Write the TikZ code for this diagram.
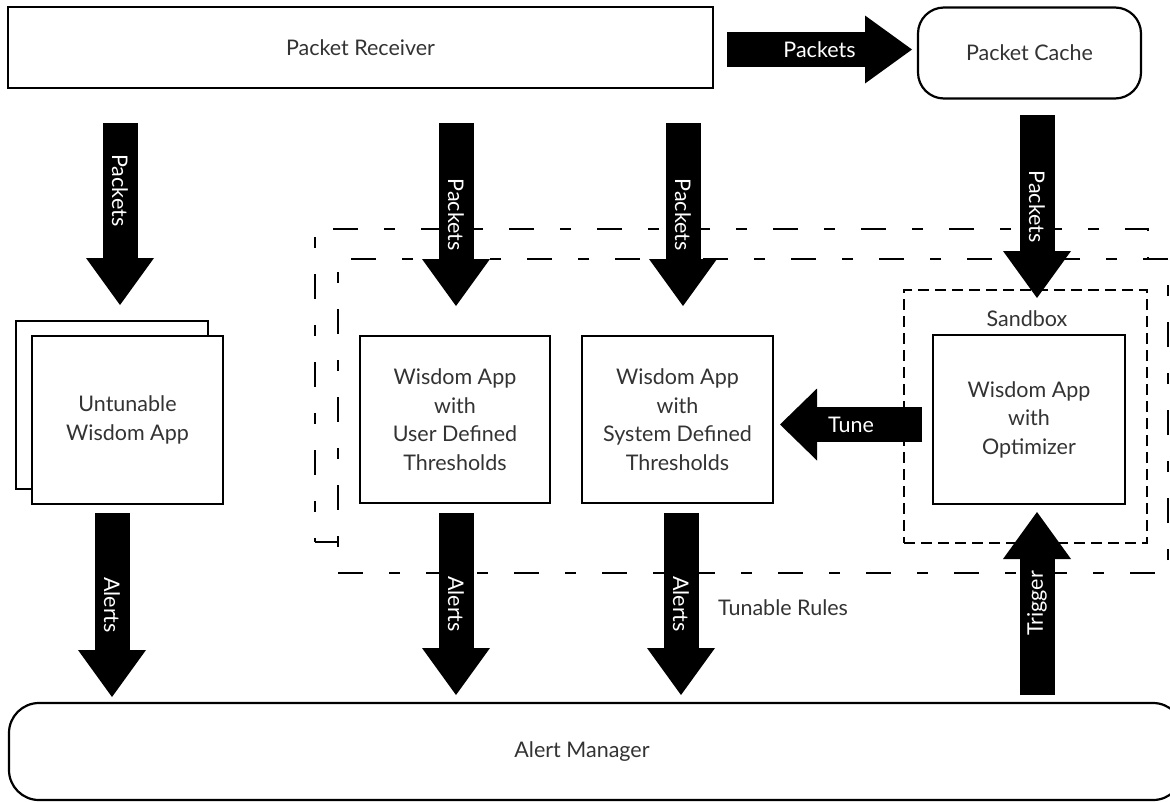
\documentclass[tikz,border=0pt]{standalone}
\usepackage{fontspec}
\setmainfont{Lato}
\usetikzlibrary{arrows.meta}
\definecolor{txt}{RGB}{51,51,51}
\begin{document}
\begin{tikzpicture}[x=1pt,y=-1pt,
  box/.style={draw=black, line width=2.2pt, fill=white, text=txt, align=center, inner sep=0pt,
    font=\fontsize{21.5}{28.5}\selectfont},
  plain/.style={text=txt, inner sep=0pt, font=\fontsize{21.5}{28.5}\selectfont},
  fat/.style={draw=black, line width=35pt, -{Triangle[length=47pt,width=68pt,line width=0pt]}},
  tunearrow/.style={draw=black, line width=35pt, -{Triangle[length=37pt,width=72pt,line width=0pt]}},
  lbl/.style={text=white, inner sep=0pt, font=\fontsize{21.5}{24}\selectfont},
  dashdot/.style={draw=black, line width=2.2pt, dash pattern=on 25pt off 26pt on 11pt off 26pt},
  dotbox/.style={draw=black, line width=2.2pt, dash pattern=on 11pt off 6pt}
]
\useasboundingbox (0,0) rectangle (1170,801);
\fill[white] (0,0) rectangle (1170,801);

% dashed regions
\node[dashdot, minimum width=833pt, minimum height=313pt, inner sep=0pt] (outer) at (731.5,385.5) {};
\node[dashdot, fill=white, minimum width=830pt, minimum height=314pt, inner sep=0pt] (inner) at (753,416) {};
\node[dotbox, minimum width=243pt, minimum height=253pt, inner sep=0pt] (sandbox) at (1025.5,416.5) {};
\node[plain] (sandboxlbl) at (1027,319) {Sandbox};
\node[plain] (tunable) at (783,608) {Tunable Rules};

% boxes
\node[box, minimum width=705pt, minimum height=81pt] (recv) at (360.5,47.5) {Packet Receiver};
\node[box, rounded corners=26pt, minimum width=223pt, minimum height=91pt] (cache) at (1029.5,53) {Packet Cache};
\node[box, minimum width=192pt, minimum height=168pt] (untb) at (112,405) {};
\node[box, minimum width=191pt, minimum height=168pt] (unt) at (127.5,420) {Untunable\\Wisdom App};
\node[box, minimum width=190pt, minimum height=167pt] (user) at (455,419.5) {Wisdom App\\with\\User Defined\\Thresholds};
\node[box, minimum width=191pt, minimum height=167pt] (sys) at (677.5,419.5) {Wisdom App\\with\\System Defined\\Thresholds};
\node[box, minimum width=192pt, minimum height=169pt] (opt) at (1029,419.5) {Wisdom App\\with\\Optimizer};
\node[box, rounded corners=30pt, minimum width=1174pt, minimum height=97pt] (am) at (596,751.5) {};
\node[plain] (amlbl) at (582,752) {Alert Manager};

% arrow end points
\coordinate (ph1) at (727,49.5);  \coordinate (ph2) at (912,49.5);
\coordinate (pa1) at (120,123);   \coordinate (pa2) at (120,305);
\coordinate (pb1) at (456,123);   \coordinate (pb2) at (456,306);
\coordinate (pc1) at (683,123);   \coordinate (pc2) at (683,306);
\coordinate (pd1) at (1037,115);  \coordinate (pd2) at (1037,298);
\coordinate (aa1) at (112,513);   \coordinate (aa2) at (112,697);
\coordinate (ab1) at (456,513);   \coordinate (ab2) at (456,695);
\coordinate (ac1) at (681,513);   \coordinate (ac2) at (681,695);
\coordinate (tr1) at (1037,695);  \coordinate (tr2) at (1037,512);
\coordinate (tu1) at (922,424.5); \coordinate (tu2) at (780,424.5);

% arrows
\draw[fat] (ph1) -- (ph2) node[lbl, pos=0.5] (phl) {Packets};
\draw[fat] (pa1) -- (pa2) node[lbl, pos=0.37, rotate=-90] (pal) {Packets};
\draw[fat] (pb1) -- (pb2) node[lbl, pos=0.5, rotate=-90] (pbl) {Packets};
\draw[fat] (pc1) -- (pc2) node[lbl, pos=0.5, rotate=-90] (pcl) {Packets};
\draw[fat] (pd1) -- (pd2) node[lbl, pos=0.5, rotate=-90] (pdl) {Packets};
\draw[fat] (aa1) -- (aa2) node[lbl, pos=0.5, rotate=-90] (aal) {Alerts};
\draw[fat] (ab1) -- (ab2) node[lbl, pos=0.5, rotate=-90] (abl) {Alerts};
\draw[fat] (ac1) -- (ac2) node[lbl, pos=0.5, rotate=-90] (acl) {Alerts};
\draw[fat] (tr1) -- (tr2) node[lbl, pos=0.5, rotate=90] (trl) {Trigger};
\draw[tunearrow] (tu1) -- (tu2) node[lbl, pos=0.5] (tul) {Tune};
\end{tikzpicture}
\end{document}
